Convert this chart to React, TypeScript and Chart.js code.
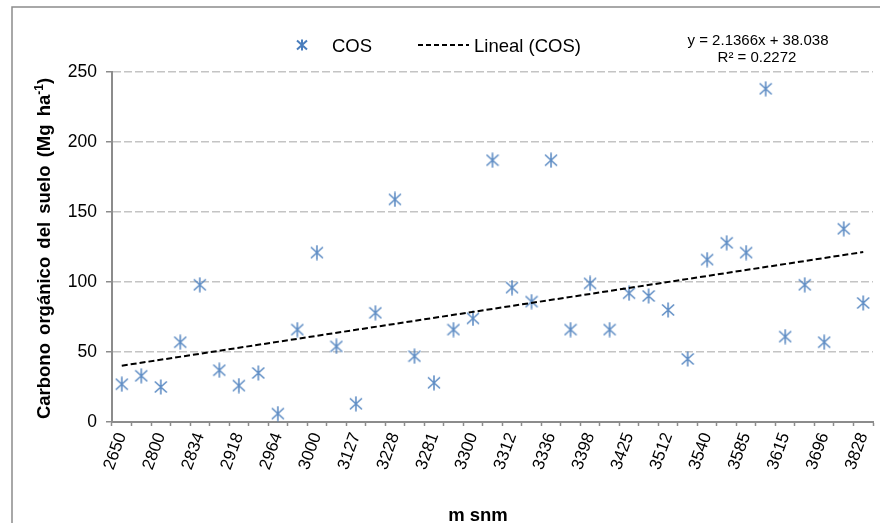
import React, { useEffect, useRef } from 'react';
import { Chart, registerables } from 'chart.js';

Chart.register(...registerables);

// ---------- data ----------
const tickLabels = [
  '2650', '2800', '2834', '2918', '2964', '3000', '3127', '3228', '3281', '3300',
  '3312', '3336', '3398', '3425', '3512', '3540', '3585', '3615', '3696', '3828',
];
const cosValues = [
  27, 33, 25, 57, 98, 37, 26, 35, 6, 66,
  121, 54, 13, 78, 159, 47, 28, 66, 74, 187,
  96, 86, 187, 66, 99, 66, 92, 90, 80, 45,
  116, 128, 121, 238, 61, 98, 57, 138, 85,
];
const trendStart = 40.2;
const trendEnd = 121.4;
const yMin = 0;
const yMax = 250;
const yStep = 50;
const seriesName = 'COS';
const trendName = 'Lineal (COS)';
const equationText = 'y = 2.1366x + 38.038';
const r2Text = 'R² = 0.2272';
const xTitle = 'm snm';
const yTitleMain = 'Carbono orgánico del suelo (Mg ha';
const yTitleSup = '-1';
const yTitleEnd = ')';

const categories = cosValues.map((_, i) => (i % 2 === 0 ? tickLabels[i / 2] : ''));
const trendValues = cosValues.map((_, i) =>
  i === 0 ? trendStart : i === cosValues.length - 1 ? trendEnd : null
);

const FONT = '"Liberation Sans", Arial, sans-serif';
const MARKER = 'rgba(74,126,189,0.88)';
const AXIS = '#8C8C8C';

function drawStar(ctx: CanvasRenderingContext2D, cx: number, cy: number, hw: number, hh: number, vh: number, lw: number, color: string) {
  ctx.save();
  ctx.strokeStyle = color;
  ctx.lineWidth = lw;
  ctx.lineCap = 'butt';
  ctx.beginPath();
  ctx.moveTo(cx, cy - vh);
  ctx.lineTo(cx, cy + vh);
  ctx.moveTo(cx - hw, cy - hh);
  ctx.lineTo(cx + hw, cy + hh);
  ctx.moveTo(cx + hw, cy - hh);
  ctx.lineTo(cx - hw, cy + hh);
  ctx.stroke();
  ctx.restore();
}

function makeMarker(): HTMLCanvasElement {
  const c = document.createElement('canvas');
  c.width = 14;
  c.height = 16;
  const ctx = c.getContext('2d')!;
  drawStar(ctx, 7, 8, 6, 5.5, 7.5, 1.6, MARKER);
  return c;
}

const decorPlugin = {
  id: 'decor',
  beforeDraw(chart: any) {
    const ctx: CanvasRenderingContext2D = chart.ctx;
    ctx.save();
    ctx.fillStyle = '#ffffff';
    ctx.fillRect(0, 0, chart.width, chart.height);
    ctx.strokeStyle = AXIS;
    ctx.lineWidth = 1.5;
    ctx.beginPath();
    ctx.moveTo(12, chart.height + 5);
    ctx.lineTo(12, 7);
    ctx.lineTo(chart.width + 5, 7);
    ctx.stroke();
    ctx.restore();
  },
  afterDraw(chart: any) {
    const ctx: CanvasRenderingContext2D = chart.ctx;
    ctx.save();
    // legend
    drawStar(ctx, 302, 45, 5, 4.5, 5.5, 2, 'rgba(74,126,189,1)');
    ctx.fillStyle = '#000';
    ctx.font = `18.5px ${FONT}`;
    ctx.textAlign = 'left';
    ctx.textBaseline = 'alphabetic';
    ctx.fillText(chart.data.datasets[0].label, 332, 51.5);
    ctx.save();
    ctx.strokeStyle = '#000';
    ctx.lineWidth = 2;
    ctx.setLineDash([5, 3]);
    ctx.beginPath();
    ctx.moveTo(418, 45);
    ctx.lineTo(469, 45);
    ctx.stroke();
    ctx.restore();
    ctx.fillText(chart.data.datasets[1].label, 474, 51.5);

    // equation
    ctx.font = `15px ${FONT}`;
    ctx.textAlign = 'center';
    ctx.fillText(equationText, 758, 44.5);
    ctx.fillText(r2Text, 757, 62.3);

    // x title
    ctx.font = `bold 18.5px ${FONT}`;
    ctx.textAlign = 'center';
    ctx.fillText(xTitle, 478, 521);

    // y title (rotated, with superscript)
    ctx.save();
    ctx.translate(50, 248.5);
    ctx.rotate(-Math.PI / 2);
    ctx.textAlign = 'left';
    (ctx as any).wordSpacing = '3px';
    const mainFont = `bold 18.5px ${FONT}`;
    const supFont = `bold 12px ${FONT}`;
    ctx.font = mainFont;
    const w1 = ctx.measureText(yTitleMain).width;
    const w3 = ctx.measureText(yTitleEnd).width;
    ctx.font = supFont;
    const w2 = ctx.measureText(yTitleSup).width;
    const total = w1 + w2 + w3;
    let x = -total / 2;
    ctx.font = mainFont;
    ctx.fillText(yTitleMain, x, 0);
    x += w1;
    ctx.font = supFont;
    ctx.fillText(yTitleSup, x, -7.5);
    x += w2;
    ctx.font = mainFont;
    ctx.fillText(yTitleEnd, x, 0);
    ctx.restore();

    ctx.restore();
  },
};

export default function App() {
  const ref = useRef<HTMLCanvasElement | null>(null);

  useEffect(() => {
    document.body.style.margin = '0';
    document.body.style.overflow = 'hidden';
    const canvas = ref.current;
    if (!canvas) return;
    const marker = makeMarker();
    const chart = new Chart(canvas, {
      type: 'line',
      data: {
        labels: categories,
        datasets: [
          {
            label: seriesName,
            data: cosValues,
            showLine: false,
            pointStyle: marker as any,
            pointRadius: 6,
            pointHoverRadius: 6,
            borderColor: MARKER,
            backgroundColor: MARKER,
            order: 1,
          },
          {
            label: trendName,
            data: trendValues,
            spanGaps: true,
            borderColor: '#000000',
            borderWidth: 2,
            borderDash: [6, 3],
            pointRadius: 0,
            pointHoverRadius: 0,
            fill: false,
            order: 0,
          },
        ],
      },
      options: {
        responsive: false,
        animation: false,
        devicePixelRatio: 1,
        layout: { padding: { left: 0, top: 72, right: 5, bottom: 0 } },
        plugins: {
          legend: { display: false },
          tooltip: { enabled: false },
          title: { display: false },
        },
        scales: {
          x: {
            type: 'category',
            offset: true,
            afterFit: (scale: any) => {
              scale.height = 101;
              scale.paddingLeft = 0;
              scale.paddingRight = 0;
            },
            grid: {
              offset: true,
              drawOnChartArea: false,
              drawTicks: true,
              tickLength: 4,
              tickColor: AXIS,
              tickWidth: 1.5,
              tickBorderDash: [],
              color: AXIS,
            },
            border: { display: true, color: AXIS, width: 2 },
            ticks: {
              autoSkip: false,
              maxRotation: 70,
              minRotation: 70,
              padding: 4,
              color: '#000',
              font: { size: 17, family: FONT },
            },
          },
          y: {
            min: yMin,
            max: yMax,
            afterFit: (scale: any) => {
              scale.width = 112;
            },
            grid: {
              color: (c: any) => (c.tick && c.tick.value === yMin ? 'rgba(0,0,0,0)' : '#C4C4C4'),
              lineWidth: 1.5,
              drawTicks: true,
              tickLength: 6,
              tickColor: AXIS,
              tickWidth: 1.5,
              tickBorderDash: [],
            },
            border: { display: true, color: AXIS, width: 2, dash: [8, 3] },
            ticks: {
              stepSize: yStep,
              padding: 9,
              color: '#000',
              font: { size: 17.5, family: FONT },
            },
          },
        },
      },
      plugins: [decorPlugin],
    } as any);
    return () => chart.destroy();
  }, []);

  return <canvas ref={ref} width={880} height={523} style={{ display: 'block', width: 880, height: 523 }} />;
}
